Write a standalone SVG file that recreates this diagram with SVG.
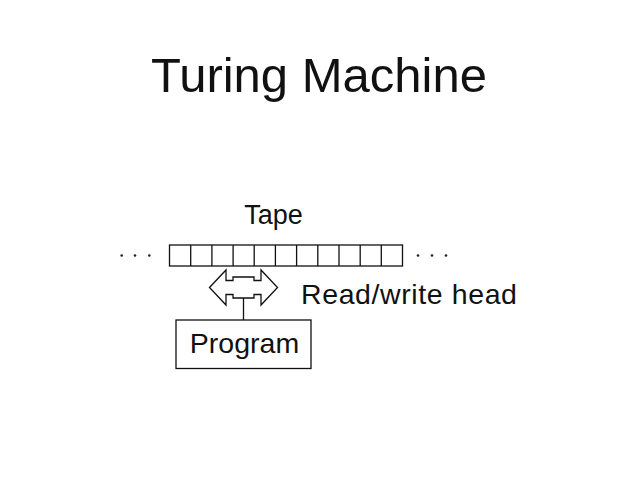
<svg xmlns="http://www.w3.org/2000/svg" width="638" height="479" viewBox="0 0 638 479">
<style>
.t{font-family:"Liberation Sans",Arial,sans-serif;fill:#111}
.s{fill:none;stroke:#111;stroke-width:1.3}
.d{fill:#222}
</style>
<rect width="638" height="479" fill="#fff"/>
<text class="t" x="319" y="92" font-size="49" text-anchor="middle">Turing Machine</text>
<g id="tape">
<text class="t" x="273.5" y="223.5" font-size="27" text-anchor="middle">Tape</text>
<rect class="s" x="169.5" y="245" width="233" height="21"/>
<path class="s" d="M190.7 245v21M211.9 245v21M233.1 245v21M254.2 245v21M275.4 245v21M296.6 245v21M317.8 245v21M339 245v21M360.2 245v21M381.3 245v21"/>
<circle class="d" cx="121.7" cy="255.5" r="1.3"/><circle class="d" cx="135" cy="255.5" r="1.3"/><circle class="d" cx="149.3" cy="255.5" r="1.3"/>
<circle class="d" cx="418" cy="255.5" r="1.3"/><circle class="d" cx="432" cy="255.5" r="1.3"/><circle class="d" cx="446" cy="255.5" r="1.3"/>
</g>
<g id="head">
<path class="s" d="M209.5 287.5L226 270V280.5H233V277H254V280.5H261V270L277.5 287.5L261 305V294.5H254V298H233V294.5H226V305Z"/>
<text class="t" x="301" y="303.5" font-size="28.5" letter-spacing="0.6">Read/write head</text>
</g>
<g id="connectors">
<path class="s" d="M243.5 298V320"/>
</g>
<g id="program">
<rect class="s" x="176" y="320" width="135" height="48.5"/>
<text class="t" x="244.5" y="352.5" font-size="28.5" text-anchor="middle">Program</text>
</g>
</svg>
